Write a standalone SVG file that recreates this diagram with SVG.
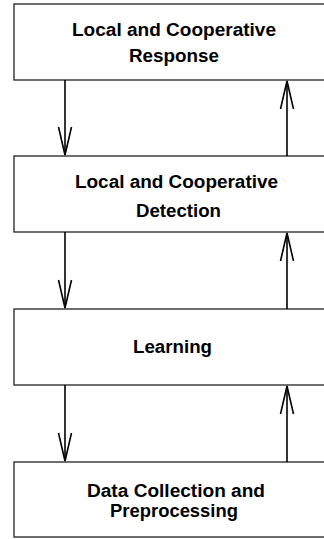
<svg xmlns="http://www.w3.org/2000/svg" width="324" height="539" viewBox="0 0 324 539">
  <style>
    .box { fill: #ffffff; stroke: #222222; stroke-width: 1.3; }
    .lbl { font-family: "Liberation Sans", Arial, sans-serif; font-weight: bold; font-size: 18px; fill: #000000; }
    .conn { stroke: #000000; stroke-width: 1.6; fill: none; }
  </style>
  <defs>
    <marker id="arrow" markerUnits="userSpaceOnUse" viewBox="-30 -8 32 16" refX="0" refY="0" markerWidth="32" markerHeight="16" orient="auto" overflow="visible">
      <path d="M -28 -6.5 L 0 0 L -28 6.5" fill="none" stroke="#000000" stroke-width="1.6"/>
    </marker>
  </defs>
  <rect x="0" y="0" width="324" height="539" fill="#ffffff"/>
  <g id="node-response">
    <rect class="box" x="14" y="4" width="330" height="76"/>
    <text class="lbl" x="72" y="36" textLength="204" lengthAdjust="spacingAndGlyphs">Local and Cooperative</text>
    <text class="lbl" x="129" y="62" textLength="90" lengthAdjust="spacingAndGlyphs">Response</text>
  </g>
  <g id="node-detection">
    <rect class="box" x="14" y="156" width="330" height="76"/>
    <text class="lbl" x="75" y="188" textLength="203" lengthAdjust="spacingAndGlyphs">Local and Cooperative</text>
    <text class="lbl" x="136" y="217" textLength="85" lengthAdjust="spacingAndGlyphs">Detection</text>
  </g>
  <g id="node-learning">
    <rect class="box" x="14" y="309" width="330" height="76"/>
    <text class="lbl" x="133" y="353" textLength="79" lengthAdjust="spacingAndGlyphs">Learning</text>
  </g>
  <g id="node-data">
    <rect class="box" x="14" y="462" width="330" height="75"/>
    <text class="lbl" x="87" y="497" textLength="178" lengthAdjust="spacingAndGlyphs">Data Collection and</text>
    <text class="lbl" x="110" y="517" textLength="128" lengthAdjust="spacingAndGlyphs">Preprocessing</text>
  </g>
  <g id="connectors">
    <line class="conn" x1="65" y1="80" x2="65" y2="155" marker-end="url(#arrow)"/>
    <line class="conn" x1="287" y1="156" x2="287" y2="81" marker-end="url(#arrow)"/>
    <line class="conn" x1="65" y1="232" x2="65" y2="308" marker-end="url(#arrow)"/>
    <line class="conn" x1="287" y1="309" x2="287" y2="233" marker-end="url(#arrow)"/>
    <line class="conn" x1="65" y1="385" x2="65" y2="461" marker-end="url(#arrow)"/>
    <line class="conn" x1="287" y1="462" x2="287" y2="386" marker-end="url(#arrow)"/>
  </g>
</svg>
